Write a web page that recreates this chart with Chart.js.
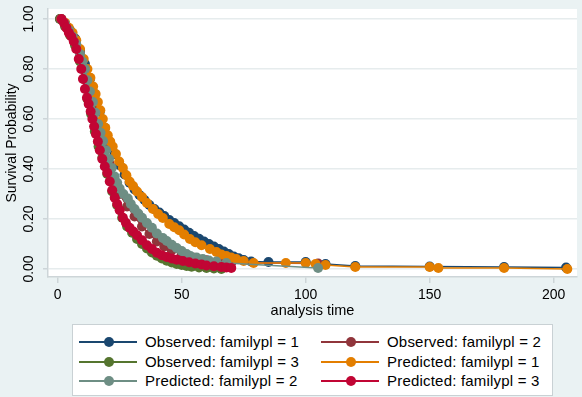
<!DOCTYPE html>
<html>
<head>
<meta charset="utf-8">
<script src="https://cdn.jsdelivr.net/npm/chart.js@4.4.1/dist/chart.umd.min.js"></script>
<style>
    html, body { margin: 0; padding: 0; background: #eaf2f3; }
    #wrap { position: relative; width: 582px; height: 397px; }
    #survChart { position: absolute; left: 0; top: 0; }
    #legend {
        position: absolute; left: 72px; top: 324px; width: 479px; height: 70px;
        background: #fff; border: 1px solid #c9d1d4;
        font-family: "Liberation Sans", Arial, sans-serif; font-size: 15px; color: #000;
    }
    .item { position: absolute; height: 20px; line-height: 20px; white-space: nowrap; }
    .sym { position: absolute; left: 0; top: 9px; width: 58px; height: 2px; }
    .sym i { position: absolute; left: 25px; top: -4px; width: 10px; height: 10px; border-radius: 50%; }
    .item span { position: absolute; left: 66px; top: 0; letter-spacing: 0.2px; }
</style>
</head>
<body>
<div id="wrap">
    <canvas id="survChart" width="582" height="397"></canvas>
    <div id="legend"></div>
</div>
<script>
// axis ticks
const xTicks = [0, 50, 100, 150, 200];
const yTicks = [0, 0.2, 0.4, 0.6, 0.8, 1.0];

// Observed: familypl = 1
const tObs1 = [1, 3, 5, 7, 9, 11, 13, 15, 17, 19, 21, 23, 25, 27, 29, 31, 33, 35, 37, 39, 41, 43, 45, 47, 49, 51, 53, 55, 57, 59, 61, 63, 65, 67, 69, 71, 73, 75, 78, 85, 100, 108, 120, 150, 180, 205];
const sObs1 = [1.0, 0.98, 0.955, 0.922, 0.875, 0.82, 0.76, 0.70, 0.63, 0.565, 0.505, 0.46, 0.415, 0.378, 0.345, 0.318, 0.296, 0.276, 0.256, 0.24, 0.226, 0.212, 0.196, 0.184, 0.171, 0.158, 0.145, 0.132, 0.121, 0.11, 0.1, 0.09, 0.08, 0.07, 0.06, 0.05, 0.043, 0.036, 0.03, 0.028, 0.028, 0.02, 0.012, 0.01, 0.008, 0.006];

// Observed: familypl = 2
const tObs2 = [1, 3, 5, 7, 9, 11, 13, 15, 17, 19, 21, 23, 25, 28, 31, 34, 37, 40, 43, 46, 50, 55, 60, 65, 70, 105];
const sObs2 = [1.0, 0.975, 0.945, 0.91, 0.86, 0.8, 0.715, 0.64, 0.56, 0.485, 0.42, 0.35, 0.3, 0.25, 0.21, 0.17, 0.14, 0.11, 0.09, 0.075, 0.06, 0.045, 0.035, 0.028, 0.025, 0.022];

// Observed: familypl = 3
const tObs3 = [1, 3, 5, 7, 9, 10.5, 12, 13.5, 15, 16.5, 18, 20, 22, 24, 26, 28, 30, 32, 34, 36, 38, 40, 42, 44, 46, 48, 50, 52, 54, 57, 60, 63, 66];
const sObs3 = [1.0, 0.97, 0.935, 0.895, 0.83, 0.76, 0.68, 0.62, 0.55, 0.49, 0.445, 0.38, 0.31, 0.255, 0.205, 0.17, 0.145, 0.12, 0.1, 0.082, 0.066, 0.053, 0.042, 0.033, 0.026, 0.02, 0.016, 0.012, 0.009, 0.006, 0.004, 0.002, 0.0];

// Predicted: familypl = 1
const tPred1 = [1.5, 3, 4.5, 6, 7.5, 9, 10.5, 12, 13.2, 14.3, 15.3, 16.2, 17.2, 18.2, 19.2, 20.2, 21.2, 22.2, 23.5, 24.8, 26.3, 27.7, 29, 30.4, 32, 34, 36, 38.4, 40.5, 42.4, 45, 47, 49, 51, 53.3, 55.5, 58, 61.4, 64, 66, 68, 70, 72, 75, 79, 92, 100, 104, 108, 120, 150, 153.5, 180, 205.5];
const sPred1 = [1.0, 0.985, 0.965, 0.945, 0.915, 0.88, 0.84, 0.8, 0.765, 0.73, 0.7, 0.668, 0.635, 0.6, 0.565, 0.535, 0.51, 0.49, 0.46, 0.43, 0.404, 0.375, 0.35, 0.332, 0.31, 0.288, 0.264, 0.24, 0.22, 0.204, 0.18, 0.167, 0.155, 0.138, 0.12, 0.107, 0.095, 0.08, 0.068, 0.058, 0.052, 0.046, 0.04, 0.032, 0.024, 0.024, 0.024, 0.02, 0.016, 0.008, 0.008, 0.004, 0.004, 0.0];

// Predicted: familypl = 2
const tPred2 = [1.5, 3, 4.5, 6, 7.5, 9, 10, 11, 12, 13, 14.2, 15.2, 16.3, 17.3, 18.3, 19.5, 20.7, 21.8, 23, 24, 25, 26.5, 28.3, 29.5, 31, 32.5, 34, 36, 38, 40, 42.4, 44, 46, 48, 50, 52, 53.5, 56, 58.5, 61, 64, 68, 105];
const sPred2 = [1.0, 0.98, 0.955, 0.93, 0.9, 0.86, 0.83, 0.8, 0.755, 0.71, 0.668, 0.625, 0.58, 0.545, 0.512, 0.475, 0.44, 0.404, 0.37, 0.345, 0.322, 0.3, 0.282, 0.26, 0.24, 0.222, 0.205, 0.184, 0.165, 0.142, 0.124, 0.112, 0.097, 0.084, 0.072, 0.06, 0.052, 0.046, 0.04, 0.034, 0.03, 0.024, 0.004];

// Predicted: familypl = 3
const tPred3 = [1.5, 2.5, 3.5, 4.5, 5.5, 6.5, 7.5, 8.5, 9.5, 10.2, 11, 11.8, 12.5, 13.3, 14, 14.7, 15.4, 16.2, 17, 18, 19, 20, 21, 22, 23, 24, 25, 26.3, 27.5, 29, 30.5, 32, 34, 36, 38, 40, 42, 44, 46, 48, 50.5, 53, 55.5, 58, 60, 63, 66, 68, 70];
const sPred3 = [1.0, 0.985, 0.965, 0.945, 0.93, 0.91, 0.88, 0.84, 0.8, 0.76, 0.72, 0.685, 0.66, 0.63, 0.6, 0.57, 0.54, 0.51, 0.475, 0.44, 0.41, 0.385, 0.35, 0.315, 0.285, 0.26, 0.235, 0.205, 0.185, 0.165, 0.15, 0.135, 0.115, 0.095, 0.08, 0.065, 0.055, 0.048, 0.042, 0.037, 0.032, 0.027, 0.022, 0.018, 0.014, 0.011, 0.008, 0.006, 0.004];

const seriesNames = [
    'Observed: familypl = 1', 'Observed: familypl = 2', 'Observed: familypl = 3',
    'Predicted: familypl = 1', 'Predicted: familypl = 2', 'Predicted: familypl = 3'
];
const seriesColors = ['#1a476f', '#90353b', '#55752f', '#e37e00', '#6e8e84', '#c10534'];
const seriesT = [tObs1, tObs2, tObs3, tPred1, tPred2, tPred3];
const seriesS = [sObs1, sObs2, sObs3, sPred1, sPred2, sPred3];

const FONT = '"Liberation Sans", Arial, sans-serif';

// white plot region on the light blue-gray graph region
const plotBg = {
    id: 'plotBg',
    beforeDraw(chart) {
        const { ctx, chartArea: a } = chart;
        ctx.save();
        ctx.fillStyle = '#eaf2f3';
        ctx.fillRect(0, 0, chart.width, chart.height);
        ctx.fillStyle = '#ffffff';
        ctx.fillRect(a.left, a.top, a.right - a.left, a.bottom - a.top);
        ctx.restore();
    }
};

function buildDatasets() {
    return seriesNames.map((name, i) => ({
        label: name,
        data: seriesT[i].map((t, k) => ({ x: t, y: seriesS[i][k] })),
        borderColor: seriesColors[i],
        backgroundColor: seriesColors[i],
        borderWidth: 1.5,
        pointRadius: 5,
        pointBorderWidth: 0,
        pointBackgroundColor: seriesColors[i],
        tension: 0,
        order: seriesNames.length - i   // later series drawn on top, like Stata
    }));
}

function initChart() {
    const ctx = document.getElementById('survChart').getContext('2d');
    new Chart(ctx, {
        type: 'line',
        data: { datasets: buildDatasets() },
        options: {
            responsive: false,
            animation: false,
            layout: { padding: { left: 0, right: 5, top: 9, bottom: 73 } },
            plugins: { legend: { display: false }, tooltip: { enabled: false } },
            scales: {
                x: {
                    type: 'linear',
                    min: -3.9,
                    max: 209.4,
                    afterBuildTicks: s => { s.ticks = xTicks.map(v => ({ value: v })); },
                    afterFit: s => { s.height = 47; },
                    border: { display: true, color: '#cdd5d8', width: 1.5 },
                    grid: { color: 'transparent', tickColor: '#cdd5d8', tickLength: 6, lineWidth: 1.5 },
                    ticks: { color: '#000', font: { family: FONT, size: 14 }, padding: 4, maxRotation: 0 },
                    title: { display: true, text: 'analysis time', color: '#000', font: { family: FONT, size: 14.5 }, padding: { top: 0, bottom: 4 } }
                },
                y: {
                    type: 'linear',
                    min: -0.032,
                    max: 1.04,
                    afterBuildTicks: s => { s.ticks = yTicks.map(v => ({ value: v })); },
                    afterFit: s => { s.width = 48; },
                    border: { display: true, color: '#cdd5d8', width: 1.5 },
                    grid: { color: '#e6eced', tickColor: '#cdd5d8', tickLength: 5, lineWidth: 1.5 },
                    ticks: {
                        color: '#000', font: { family: FONT, size: 14 },
                        minRotation: 90, maxRotation: 90, crossAlign: 'center', padding: 0,
                        callback: v => v.toFixed(2)
                    },
                    title: { display: true, text: 'Survival Probability', color: '#000', font: { family: FONT, size: 14 }, padding: { top: 4, bottom: 0 } }
                }
            }
        },
        plugins: [plotBg]
    });
}

// Stata-style legend box: two columns, filled row by row
function buildLegend() {
    const box = document.getElementById('legend');
    seriesNames.forEach((name, i) => {
        const item = document.createElement('div');
        item.className = 'item';
        item.style.left = (i % 2 === 0 ? 6 : 248) + 'px';
        item.style.top = (7 + Math.floor(i / 2) * 19.5) + 'px';
        item.innerHTML = `<div class="sym" style="background:${seriesColors[i]}"><i style="background:${seriesColors[i]}"></i></div><span>${name}</span>`;
        box.appendChild(item);
    });
}

window.addEventListener('DOMContentLoaded', () => {
    initChart();
    buildLegend();
});
</script>
</body>
</html>
